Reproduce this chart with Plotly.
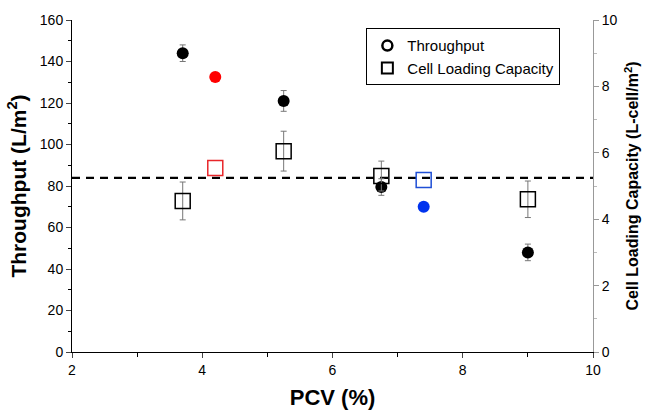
import plotly.graph_objects as go

# Throughput (left axis)
tp_x = [3.7, 5.25, 6.75, 9.0]
tp_y = [144, 121, 79.5, 48]
tp_err = [4, 5, 4, 4]
tp_red_x = [4.2]
tp_red_y = [132.5]
tp_blue_x = [7.4]
tp_blue_y = [70]

# Cell loading capacity (right axis)
clc_x = [3.7, 5.25, 6.75, 9.0]
clc_y = [4.55, 6.05, 5.3, 4.6]
clc_err = [0.57, 0.6, 0.45, 0.55]
clc_red_x = [4.2]
clc_red_y = [5.54]
clc_blue_x = [7.4]
clc_blue_y = [5.18]

ref_line = 83.9
x_range = [2, 10]

FONT = "Liberation Sans, Arial, sans-serif"

fig = go.Figure()

# dashed reference line
fig.add_trace(go.Scatter(x=x_range, y=[ref_line, ref_line], mode="lines",
                         line=dict(color="black", width=2.2, dash="8px,6px"),
                         showlegend=False, hoverinfo="skip"))

err_style = dict(type="data", color="#777777", thickness=1, width=3)

fig.add_trace(go.Scatter(x=clc_x, y=clc_y, yaxis="y2", mode="markers",
                         marker=dict(symbol="square-open", size=15, color="black",
                                     line=dict(width=1.5, color="black")),
                         error_y=dict(array=clc_err, **err_style), showlegend=False))
fig.add_trace(go.Scatter(x=clc_red_x, y=clc_red_y, yaxis="y2", mode="markers",
                         marker=dict(symbol="square-open", size=15, color="#e8262a",
                                     line=dict(width=1.5, color="#e8262a")), showlegend=False))
fig.add_trace(go.Scatter(x=clc_blue_x, y=clc_blue_y, yaxis="y2", mode="markers",
                         marker=dict(symbol="square-open", size=15, color="#1f4fd6",
                                     line=dict(width=1.5, color="#1f4fd6")), showlegend=False))

fig.add_trace(go.Scatter(x=tp_x, y=tp_y, mode="markers",
                         marker=dict(symbol="circle", size=12, color="black"),
                         error_y=dict(array=tp_err, **err_style), showlegend=False))
fig.add_trace(go.Scatter(x=tp_red_x, y=tp_red_y, mode="markers",
                         marker=dict(symbol="circle", size=12, color="#ff0000"), showlegend=False))
fig.add_trace(go.Scatter(x=tp_blue_x, y=tp_blue_y, mode="markers",
                         marker=dict(symbol="circle", size=12, color="#0033ee"), showlegend=False))

# legend entries
fig.add_trace(go.Scatter(x=[None], y=[None], mode="markers", name="Throughput",
                         marker=dict(symbol="circle-open", size=10, color="black",
                                     line=dict(width=2.5, color="black"))))
fig.add_trace(go.Scatter(x=[None], y=[None], mode="markers", name="Cell Loading Capacity",
                         marker=dict(symbol="square-open", size=11, color="black",
                                     line=dict(width=2, color="black"))))

fig.update_layout(
    width=646, height=411,
    margin=dict(l=72, r=53, t=20, b=59, autoexpand=False),
    plot_bgcolor="white", paper_bgcolor="white",
    font=dict(family=FONT, size=13, color="black"),
    xaxis=dict(range=x_range, dtick=2, tick0=2, ticks="outside", ticklen=5,
               showline=True, linecolor="black", linewidth=1, showgrid=False,
               zeroline=False, tickfont=dict(size=14), automargin=False,
               minor=dict(dtick=1, ticks="outside", ticklen=4, tickcolor="black"),
               title=dict(text="<b>PCV (%)</b>", font=dict(size=22), standoff=12)),
    yaxis=dict(range=[0, 160], dtick=20, ticks="outside", ticklen=5,
               showline=True, linecolor="black", linewidth=1, showgrid=False,
               zeroline=False, tickfont=dict(size=14), automargin=False,
               minor=dict(dtick=10, ticks="outside", ticklen=3, tickcolor="black"),
               title=dict(text="<b>Throughput (L/m<sup>2</sup>)</b>", font=dict(size=21), standoff=7)),
    yaxis2=dict(range=[0, 10], dtick=2, overlaying="y", side="right", anchor="x",
                ticks="outside", ticklen=5, showline=True, linecolor="#999999", linewidth=1,
                tickcolor="#999999", showgrid=False, zeroline=False, tickfont=dict(size=14),
                automargin=False,
                minor=dict(dtick=1, ticks="outside", ticklen=3, tickcolor="#bbbbbb"),
                title=dict(text="<b>Cell Loading Capacity (L-cell/m<sup>2</sup>)</b>",
                           font=dict(size=16), standoff=10)),
    legend=dict(x=0.565, y=0.975, xanchor="left", yanchor="top",
                bordercolor="black", borderwidth=1, bgcolor="white",
                font=dict(size=15), tracegroupgap=0, itemsizing="trace"),
)

fig.write_html("out.html")
